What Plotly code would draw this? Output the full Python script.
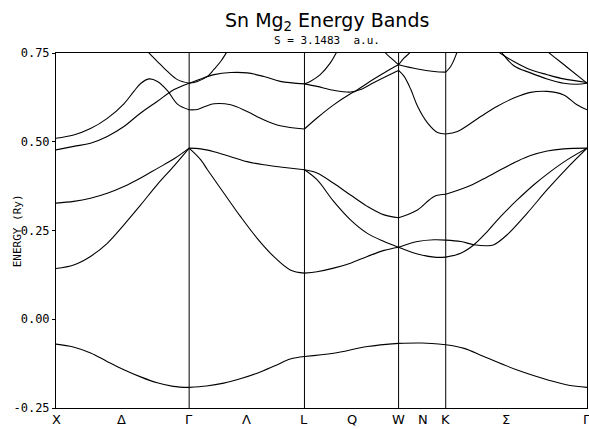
import plotly.graph_objects as go

# Positions of the high-symmetry points along X–Γ–L–W–K–Γ (units of 2π/a)
sym_k = [0.0, 1.0, 1.866, 2.573, 2.927, 3.988]
vline_k = [1.0, 1.866, 2.573, 2.927]

# Labels along the path
path_labels = ["X", "Δ", "Γ", "Λ", "L", "Q", "W", "N", "K", "Σ", "Γ"]
path_label_k = [0.0, 0.49, 1.0, 1.43, 1.866, 2.22, 2.573, 2.76, 2.927, 3.38, 3.988]

energy_ticks = [-0.25, 0.0, 0.25, 0.50, 0.75]
energy_tick_text = ["-0.25", "0.00", "0.25", "0.50", "0.75"]

# Bands on each segment: (fraction along the segment, energy in Ry)
# X -> Γ  (Δ)
bands_delta = [
    ([0, 0.13, 0.26, 0.38, 0.51, 0.64, 0.76, 0.88, 1.0],
     [-0.070, -0.078, -0.095, -0.118, -0.142, -0.163, -0.179, -0.189, -0.192]),
    ([0, 0.133, 0.259, 0.385, 0.51, 0.636, 0.762, 0.887, 1.0],
     [0.143, 0.153, 0.177, 0.214, 0.266, 0.322, 0.380, 0.432, 0.482]),
    ([0, 0.133, 0.259, 0.385, 0.51, 0.636, 0.762, 0.887, 1.0],
     [0.327, 0.332, 0.341, 0.355, 0.374, 0.398, 0.425, 0.452, 0.482]),
    ([0, 0.133, 0.259, 0.385, 0.51, 0.636, 0.762, 0.887, 1.0],
     [0.477, 0.487, 0.496, 0.515, 0.543, 0.581, 0.614, 0.647, 0.665]),
    ([0, 0.133, 0.259, 0.385, 0.51, 0.585, 0.636, 0.698, 0.762, 0.837, 0.912, 1.0],
     [0.510, 0.519, 0.537, 0.566, 0.607, 0.642, 0.664, 0.677, 0.670, 0.644, 0.606, 0.590]),
    ([0.62, 0.686, 0.762, 0.837, 0.912, 1.0],
     [0.785, 0.755, 0.726, 0.698, 0.675, 0.665]),
]

# Γ -> L  (Λ)
bands_lambda = [
    ([0, 0.15, 0.30, 0.45, 0.59, 0.75, 0.877, 1.0],
     [-0.192, -0.188, -0.180, -0.167, -0.152, -0.130, -0.112, -0.105]),
    ([0, 0.101, 0.159, 0.302, 0.446, 0.59, 0.733, 0.877, 1.0],
     [0.482, 0.449, 0.421, 0.355, 0.289, 0.228, 0.177, 0.139, 0.130]),
    ([0, 0.10, 0.216, 0.36, 0.503, 0.647, 0.79, 1.0],
     [0.482, 0.480, 0.472, 0.458, 0.444, 0.435, 0.429, 0.421]),
    ([0, 0.072, 0.144, 0.216, 0.36, 0.503, 0.647, 0.79, 1.0],
     [0.590, 0.591, 0.600, 0.607, 0.604, 0.585, 0.562, 0.545, 0.536]),
    ([0, 0.101, 0.216, 0.36, 0.503, 0.647, 0.79, 1.0],
     [0.665, 0.677, 0.689, 0.695, 0.694, 0.684, 0.670, 0.663]),
    ([0, 0.072, 0.159, 0.213, 0.273, 0.331, 0.40],
     [0.665, 0.670, 0.684, 0.703, 0.726, 0.755, 0.790]),
]

# L -> W  (Q)
bands_q = [
    ([0, 0.31, 0.668, 1.0],
     [-0.105, -0.096, -0.077, -0.068]),
    ([0, 0.133, 0.31, 0.489, 0.668, 0.846, 1.0],
     [0.130, 0.134, 0.144, 0.158, 0.177, 0.194, 0.203]),
    ([0, 0.133, 0.31, 0.489, 0.668, 0.846, 1.0],
     [0.421, 0.393, 0.332, 0.280, 0.242, 0.219, 0.203]),
    ([0, 0.133, 0.31, 0.489, 0.668, 0.846, 1.0],
     [0.421, 0.412, 0.383, 0.350, 0.318, 0.294, 0.286]),
    ([0, 0.133, 0.31, 0.489, 0.596, 0.739, 0.882, 1.0],
     [0.663, 0.656, 0.645, 0.640, 0.647, 0.667, 0.686, 0.701]),
    ([0, 0.133, 0.31, 0.489, 0.543, 0.668, 0.846, 0.935, 1.0],
     [0.536, 0.567, 0.604, 0.635, 0.643, 0.665, 0.694, 0.708, 0.717]),
    ([0, 0.061, 0.168, 0.275, 0.347, 0.42],
     [0.663, 0.670, 0.689, 0.722, 0.755, 0.790]),
    ([0.78, 0.846, 0.918, 1.0],
     [0.790, 0.755, 0.736, 0.717]),
]

# W -> K  (N)
bands_n = [
    ([0, 0.5, 1.0], [-0.068, -0.067, -0.072]),
    ([0, 0.4, 0.753, 1.0], [0.203, 0.184, 0.175, 0.175]),
    ([0, 0.4, 0.753, 1.0], [0.203, 0.219, 0.224, 0.223]),
    ([0, 0.4, 0.753, 1.0], [0.286, 0.308, 0.346, 0.352]),
    ([0, 0.118, 0.26, 0.402, 0.613, 0.825, 1.0],
     [0.701, 0.684, 0.647, 0.600, 0.553, 0.526, 0.522]),
    ([0, 0.4, 0.753, 1.0], [0.717, 0.705, 0.698, 0.696]),
    ([0, 0.118, 0.26, 0.35], [0.717, 0.736, 0.755, 0.790]),
]

# K -> Γ  (Σ)
bands_sigma = [
    ([0, 0.13, 0.27, 0.506, 0.741, 0.87, 1.0],
     [-0.072, -0.082, -0.105, -0.143, -0.173, -0.186, -0.192]),
    ([0, 0.106, 0.2, 0.294, 0.388, 0.506, 0.624, 0.741, 0.859, 1.0],
     [0.175, 0.186, 0.210, 0.247, 0.289, 0.336, 0.379, 0.416, 0.449, 0.482]),
    ([0, 0.106, 0.2, 0.294, 0.341, 0.435, 0.577, 0.718, 0.859, 1.0],
     [0.223, 0.219, 0.210, 0.207, 0.210, 0.238, 0.299, 0.365, 0.426, 0.482]),
    ([0, 0.153, 0.27, 0.388, 0.506, 0.6, 0.718, 0.835, 1.0],
     [0.352, 0.373, 0.396, 0.421, 0.445, 0.461, 0.474, 0.480, 0.482]),
    ([0, 0.083, 0.247, 0.365, 0.482, 0.6, 0.718, 0.835, 0.929, 1.0],
     [0.522, 0.529, 0.571, 0.600, 0.623, 0.639, 0.642, 0.632, 0.604, 0.590]),
    ([0, 0.035, 0.059, 0.083, 0.12],
     [0.696, 0.712, 0.731, 0.755, 0.790]),
    ([0.30, 0.367, 0.482, 0.6, 0.718, 0.835, 1.0],
     [0.780, 0.755, 0.726, 0.703, 0.689, 0.677, 0.667]),
    ([0.33, 0.388, 0.482, 0.6, 0.718, 0.835, 0.929, 1.0],
     [0.785, 0.755, 0.714, 0.694, 0.677, 0.665, 0.662, 0.665]),
    ([0.65, 0.718, 0.859, 1.0],
     [0.780, 0.755, 0.710, 0.665]),
]

segments = [bands_delta, bands_lambda, bands_q, bands_n, bands_sigma]

fig = go.Figure()

for i, seg in enumerate(segments):
    k0, k1 = sym_k[i], sym_k[i + 1]
    for t_vals, e_vals in seg:
        ks = [k0 + t * (k1 - k0) for t in t_vals]
        fig.add_trace(go.Scatter(
            x=ks, y=e_vals, mode="lines",
            line=dict(color="black", width=1.1, shape="spline", smoothing=1.0),
            hoverinfo="skip", showlegend=False,
        ))

# Vertical lines through the interior symmetry points
for kv in vline_k:
    fig.add_shape(type="line", xref="x", yref="paper", x0=kv, x1=kv, y0=0, y1=1,
                  line=dict(color="black", width=1))

# Symmetry labels under the axis
for lab, kv in zip(path_labels, path_label_k):
    fig.add_annotation(text=lab, xref="x", yref="paper", x=kv, y=-0.031,
                       xanchor="center", yanchor="middle", showarrow=False,
                       font=dict(family="DejaVu Sans", size=13, color="black"))

fig.add_annotation(text="Sn Mg<sub>2</sub> Energy Bands", xref="paper", yref="paper",
                   x=0.51, y=1.088, xanchor="center", yanchor="middle", showarrow=False,
                   font=dict(family="DejaVu Sans", size=19, color="black"))
fig.add_annotation(text="S = 3.1483  a.u.", xref="paper", yref="paper",
                   x=0.51, y=1.035, xanchor="center", yanchor="middle", showarrow=False,
                   font=dict(family="DejaVu Sans Mono", size=11, color="black"))
fig.add_annotation(text="ENERGY (Ry)", xref="paper", yref="paper",
                   x=-0.072, y=0.5, xanchor="center", yanchor="middle", showarrow=False,
                   textangle=-90,
                   font=dict(family="DejaVu Sans Mono", size=11, color="black"))

fig.update_layout(
    width=589, height=429,
    margin=dict(l=56, r=2, t=53, b=21),
    paper_bgcolor="white", plot_bgcolor="white",
    xaxis=dict(
        range=[sym_k[0], sym_k[-1]],
        showticklabels=False, showgrid=False, zeroline=False, ticks="",
        showline=True, mirror=True, linecolor="black", linewidth=1,
    ),
    yaxis=dict(
        range=[-0.25, 0.75],
        tickmode="array", tickvals=energy_ticks, ticktext=energy_tick_text,
        showgrid=False, zeroline=False, ticks="outside", ticklen=3,
        tickcolor="black",
        showline=True, mirror=True, linecolor="black", linewidth=1,
        tickfont=dict(family="DejaVu Sans Mono", size=12, color="black"),
    ),
)

fig.write_html("out.html")
